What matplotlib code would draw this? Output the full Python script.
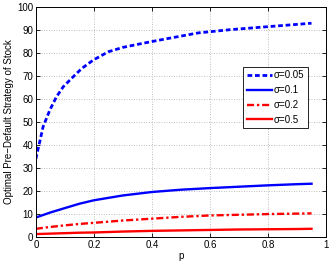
import matplotlib
matplotlib.use("Agg")
import matplotlib.pyplot as plt

# values
p_a = [0.0, 0.025, 0.048, 0.071, 0.094, 0.123, 0.158, 0.198, 0.25, 0.3, 0.37, 0.44, 0.56, 0.67, 0.79, 0.88, 0.95]
s005 = [34.0, 48.0, 55.2, 61.0, 65.3, 69.0, 73.3, 77.0, 80.6, 82.5, 84.3, 86.0, 88.8, 90.2, 91.4, 92.3, 93.0]

p_b = [0.0, 0.05, 0.1, 0.15, 0.2, 0.3, 0.4, 0.5, 0.6, 0.7, 0.8, 0.9, 0.95]
s01 = [8.5, 10.7, 12.6, 14.5, 16.0, 18.1, 19.6, 20.6, 21.3, 21.9, 22.5, 23.0, 23.2]
s02 = [3.6, 4.4, 5.1, 5.7, 6.2, 7.2, 8.0, 8.8, 9.4, 9.7, 10.0, 10.2, 10.3]
s05 = [1.3, 1.5, 1.7, 1.9, 2.0, 2.4, 2.7, 2.9, 3.1, 3.3, 3.4, 3.5, 3.6]

plt.rcParams["font.family"] = ["Liberation Sans", "DejaVu Sans"]
plt.rcParams["font.size"] = 7

fig = plt.figure(figsize=(3.32, 2.64), dpi=100)
ax = fig.add_axes([0.108, 0.102, 0.874, 0.871])

ax.plot(p_a, s005, color="blue", ls=(0, (1.7, 1.0)), lw=2.0, label="σ=0.05")
ax.plot(p_b, s01, color="blue", ls="-", lw=1.7, label="σ=0.1")
ax.plot(p_b, s02, color="red", ls=(0, (3, 1.2, 1, 1.2)), lw=1.7, label="σ=0.2")
ax.plot(p_b, s05, color="red", ls="-", lw=1.7, label="σ=0.5")

ax.set_xlim(0, 1)
ax.set_ylim(0, 100)
ax.set_xticks([0, 0.2, 0.4, 0.6, 0.8, 1])
ax.set_xticklabels(["0", "0.2", "0.4", "0.6", "0.8", "1"])
ax.set_yticks(range(0, 101, 10))
ax.grid(True, ls=(0, (1, 2)), color="#a8a8a8", lw=0.6)
ax.tick_params(direction="in", length=3, width=0.6, pad=2, top=True, right=True)
for sp in ax.spines.values():
    sp.set_linewidth(0.7)

ax.set_xlabel("p", labelpad=1)
ax.set_ylabel("Optimal Pre\u2212Default Strategy of Stock", labelpad=2)

leg = ax.legend(loc="upper left", bbox_to_anchor=(0.715, 0.74), fancybox=False,
                edgecolor="black", framealpha=1, handlelength=2.6, handletextpad=0.2,
                borderpad=0.35, labelspacing=0.5, borderaxespad=0)
leg.get_frame().set_linewidth(0.6)

fig.savefig("out.png", dpi=100)
